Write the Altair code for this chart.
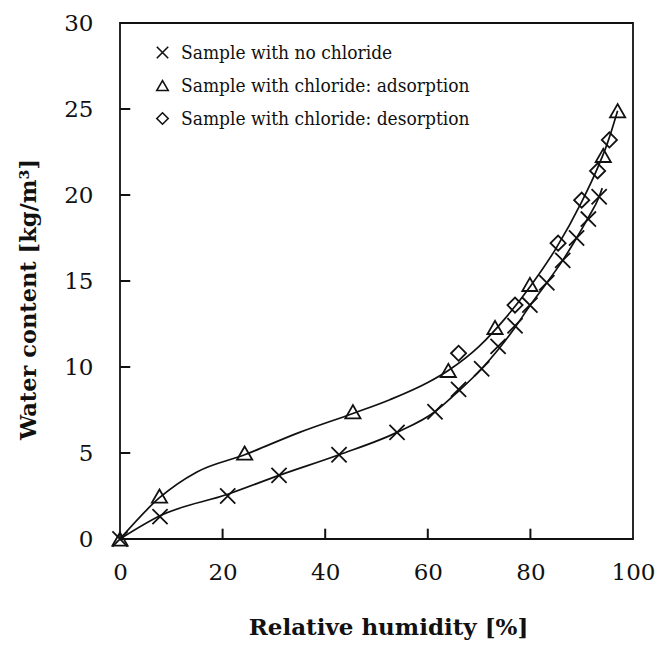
import altair as alt
import pandas as pd

# ---- data ----
series_names = ["Sample with no chloride",
                "Sample with chloride: adsorption",
                "Sample with chloride: desorption"]

rh_none = [0, 7.8, 21.0, 31.0, 42.7, 54.0, 61.4, 66.0, 70.5, 73.7, 77.0, 79.9, 83.2, 86.3, 89.0, 91.3, 93.4]
wc_none = [0, 1.3, 2.5, 3.7, 4.9, 6.2, 7.4, 8.7, 9.9, 11.2, 12.4, 13.6, 14.9, 16.2, 17.5, 18.6, 19.9]

rh_ads = [0, 7.7, 24.3, 45.4, 64.0, 73.1, 79.9, 94.2, 97.0]
wc_ads = [0, 2.5, 5.0, 7.4, 9.8, 12.3, 14.8, 22.3, 24.9]

rh_des = [66.0, 77.0, 85.4, 90.0, 93.1, 95.4]
wc_des = [10.8, 13.6, 17.2, 19.7, 21.4, 23.2]

# fitted curves
curve_low_x = [0, 7.8, 21, 31, 42.7, 54, 61.4, 66, 70.5, 73.7, 77, 80, 83.2, 86.3, 89, 91.3, 93.4, 94.0]
curve_low_y = [0, 1.35, 2.6, 3.7, 4.9, 6.2, 7.4, 8.6, 9.9, 11.0, 12.3, 13.6, 14.9, 16.2, 17.5, 18.7, 19.9, 20.4]
curve_up_x = [0, 7.7, 15, 24.3, 35, 45.4, 52.6, 60, 64, 70, 75, 80, 85, 90, 93, 95, 97]
curve_up_y = [0, 2.4, 3.9, 4.9, 6.2, 7.3, 8.1, 9.1, 9.8, 11.2, 12.8, 14.7, 16.9, 19.6, 21.5, 23.0, 24.9]

x_ticks = [0, 20, 40, 60, 80, 100]
y_ticks = [0, 5, 10, 15, 20, 25, 30]
x_inner_ticks = [20, 40, 60, 80]
y_inner_ticks = [5, 10, 15, 20, 25]

FONT = "DejaVu Serif"
LEGEND_FONT = "DejaVu Serif Condensed"
INK = "#111111"

pts = pd.concat([
    pd.DataFrame({"rh": rh_none, "wc": wc_none, "series": series_names[0]}),
    pd.DataFrame({"rh": rh_ads, "wc": wc_ads, "series": series_names[1]}),
    pd.DataFrame({"rh": rh_des, "wc": wc_des, "series": series_names[2]}),
])
curves = pd.concat([
    pd.DataFrame({"rh": curve_low_x, "wc": curve_low_y, "curve": "low"}),
    pd.DataFrame({"rh": curve_up_x, "wc": curve_up_y, "curve": "up"}),
])

xscale = alt.Scale(domain=[0, 100], nice=False, zero=False)
yscale = alt.Scale(domain=[0, 30], nice=False, zero=False)

xaxis = alt.Axis(values=x_ticks, title="Relative humidity [%]", grid=False, domain=False,
                 ticks=False, labelFontSize=23, labelFont=FONT, labelColor=INK,
                 labelPadding=22, titleFont=FONT, titleFontSize=23, titleFontWeight="bold",
                 titleColor=INK, titleX=268, titleY=88, titleBaseline="middle",
                 labelFlush=False)
yaxis = alt.Axis(values=y_ticks, title="Water content [kg/m³]", grid=False, domain=False,
                 ticks=False, labelFontSize=23, labelFont=FONT, labelColor=INK,
                 labelPadding=27, titleFont=FONT, titleFontSize=22.5, titleFontWeight="bold",
                 titleColor=INK, titleX=-92, titleY=276, titleBaseline="middle",
                 titleAngle=-90, labelFlush=False)

lines = alt.Chart(curves).mark_line(color=INK, strokeWidth=1.7, interpolate="monotone").encode(
    x=alt.X("rh:Q", scale=xscale, axis=xaxis),
    y=alt.Y("wc:Q", scale=yscale, axis=yaxis),
    detail="curve:N",
)

xpath = "M-1,-1L1,1M-1,1L1,-1"
points = alt.Chart(pts).mark_point(filled=False, strokeWidth=1.8, size=230, opacity=1).encode(
    x=alt.X("rh:Q", scale=xscale),
    y=alt.Y("wc:Q", scale=yscale),
    shape=alt.Shape("series:N",
                    scale=alt.Scale(domain=series_names, range=[xpath, "triangle-up", "diamond"]),
                    legend=alt.Legend(title=None, orient="none", legendX=33, legendY=20,
                                      labelFont=LEGEND_FONT, labelFontSize=19, labelColor=INK,
                                      symbolStrokeColor=INK, symbolStrokeWidth=1.6,
                                      symbolFillColor="transparent", symbolSize=130,
                                      labelOffset=9, rowPadding=13, padding=0,
                                      labelLimit=500)),
    color=alt.value(INK),
)

xt = alt.Chart(pd.DataFrame({"v": x_inner_ticks})).mark_rule(
    strokeWidth=2, color=INK).encode(
    x=alt.X("v:Q", scale=xscale), y=alt.datum(0), y2=alt.datum(0.6))
yt = alt.Chart(pd.DataFrame({"v": y_inner_ticks})).mark_rule(
    strokeWidth=2, color=INK).encode(
    y=alt.Y("v:Q", scale=yscale), x=alt.datum(0), x2=alt.datum(2.0))

chart = alt.layer(lines, points, xt, yt).properties(
    width=513, height=516,
    autosize=alt.AutoSizeParams(type="none"),
    padding={"left": 120, "top": 23, "right": 37, "bottom": 110},
    background="white",
).configure(font=FONT).configure_view(stroke=INK, strokeWidth=1.8)

chart.save("out.html", embed_options={"renderer": "svg", "actions": False})
